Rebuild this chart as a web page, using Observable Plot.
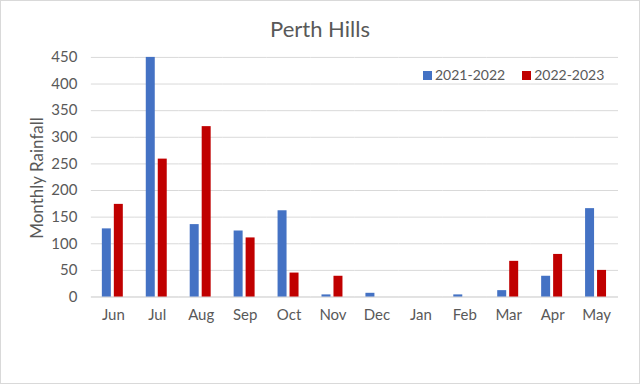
<!DOCTYPE html>
<html>
<head>
<meta charset="utf-8">
<script src="https://cdn.jsdelivr.net/npm/d3@7"></script>
<script src="https://cdn.jsdelivr.net/npm/@observablehq/plot@0.6"></script>
<style>
  html, body { margin: 0; padding: 0; background: #fff; }
  #wrap { position: relative; width: 638px; height: 382px; border: 1px solid #d9d9d9; overflow: hidden; font-family: Lato, "Open Sans", sans-serif; }
  #chart { position: absolute; left: -1px; top: -1px; }
  #title { position: absolute; left: 0; width: 638px; top: 14px; text-align: center; font-size: 22px; color: #595959; }
  #ylabel { position: absolute; left: 35px; top: 177px; transform: translate(-50%, -50%) rotate(-90deg); white-space: nowrap; font-size: 17px; color: #595959; }
  #legend { position: absolute; top: 65px; left: 422px; font-size: 14px; color: #595959; display: flex; gap: 17px; }
  #legend span.sw { display: inline-block; width: 9px; height: 9px; margin-right: 3px; }
</style>
</head>
<body>
<div id="wrap">
  <div id="chart"></div>
  <div id="title">Perth Hills</div>
  <div id="ylabel">Monthly Rainfall</div>
  <div id="legend"></div>
</div>
<script>
const months = ["Jun","Jul","Aug","Sep","Oct","Nov","Dec","Jan","Feb","Mar","Apr","May"];
const series = ["2021-2022","2022-2023"];
const rain2122 = [128,450,136,124,162,4,7,0,4,12,39,166];
const rain2223 = [174,259,320,111,45,39,0,0,0,67,80,50];
const yTicks = [0,50,100,150,200,250,300,350,400,450];
const colors = ["#4472C4","#C00000"];

const data = [];
months.forEach((m, i) => {
  data.push({month: m, series: series[0], value: rain2122[i]});
  data.push({month: m, series: series[1], value: rain2223[i]});
});

const chart = Plot.plot({
  width: 640,
  height: 384,
  marginTop: 57,
  marginBottom: 87,
  marginLeft: 89,
  marginRight: 20,
  style: {fontFamily: "Lato, 'Open Sans', sans-serif", color: "#595959", background: "transparent"},
  fx: {domain: months, padding: 0, label: null},
  x: {domain: series, axis: null, paddingInner: 0.23, paddingOuter: 0.817},
  y: {domain: [0, 450], label: null},
  color: {domain: series, range: colors},
  marks: [
    Plot.gridY(yTicks, {stroke: "#d9d9d9", strokeOpacity: 1}),
    Plot.ruleY([0], {stroke: "#d9d9d9"}),
    Plot.barY(data, {fx: "month", x: "series", y: "value", fill: "series"}),
    Plot.axisY(yTicks, {tickSize: 0, tickPadding: 14, fontSize: 15, label: null, fill: "#595959"}),
    Plot.axisFx({anchor: "bottom", tickSize: 0, tickPadding: 12, fontSize: 15, label: null, fill: "#595959"})
  ]
});
document.getElementById("chart").appendChild(chart);

const legend = document.getElementById("legend");
series.forEach((s, i) => {
  const item = document.createElement("div");
  item.innerHTML = `<span class="sw" style="background:${colors[i]}"></span>${s}`;
  legend.appendChild(item);
});
</script>
</body>
</html>
